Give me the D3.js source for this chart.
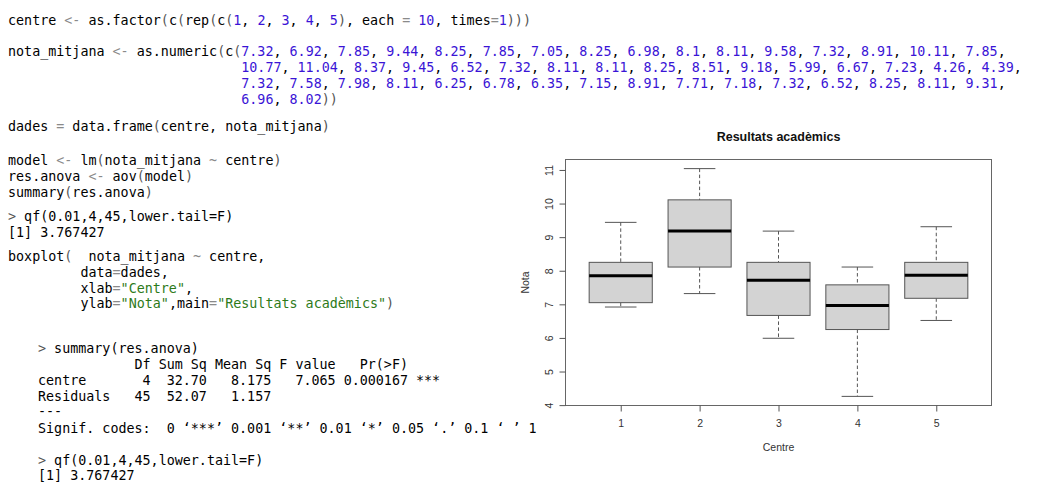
<!DOCTYPE html>
<html>
<head>
<meta charset="utf-8">
<script src="https://cdn.jsdelivr.net/npm/d3@7"></script>
<style>
  body { margin: 0; background: #fff; }
  svg text { white-space: pre; }
  .code { font-family: "DejaVu Sans Mono", monospace; font-size: 13.37px; }
  .plot text { font-family: "Liberation Sans", Arial, sans-serif; }
</style>
</head>
<body>
<svg id="chart"></svg>
<script>
// data
const centres = ["1", "2", "3", "4", "5"];
const perCentre = 10;
const notaMitjana = [
  7.32, 6.92, 7.85, 9.44, 8.25, 7.85, 7.05, 8.25, 6.98, 8.1,
  8.11, 9.58, 7.32, 8.91, 10.11, 7.85, 10.77, 11.04, 8.37, 9.45,
  6.52, 7.32, 8.11, 8.11, 8.25, 8.51, 9.18, 5.99, 6.67, 7.23,
  4.26, 4.39, 7.32, 7.58, 7.98, 8.11, 6.25, 6.78, 6.35, 7.15,
  8.91, 7.71, 7.18, 7.32, 6.52, 8.25, 8.11, 9.31, 6.96, 8.02
];
const yTicks = [4, 5, 6, 7, 8, 9, 10, 11];
const title = "Resultats acadèmics";
const xLabel = "Centre";
const yLabel = "Nota";
const qfResult = "3.767427";
const anovaRows = [
  "            Df Sum Sq Mean Sq F value   Pr(>F)    ",
  "centre       4  32.70   8.175   7.065 0.000167 ***",
  "Residuals   45  52.07   1.157                     ",
  "---",
  "Signif. codes:  0 \u2018***\u2019 0.001 \u2018**\u2019 0.01 \u2018*\u2019 0.05 \u2018.\u2019 0.1 \u2018 \u2019 1"
];

const W = 1043, H = 490;
const svg = d3.select("#chart").attr("width", W).attr("height", H);
svg.append("rect").attr("width", W).attr("height", H).attr("fill", "#fff");

// ---------- code / console text ----------
const K = "#000", O = "#8a8a8a", N = "#3a14d6", S = "#2d7a19", P = "#555";
const code = svg.append("g").attr("class", "code");

function line(x, y, segs) {
  const t = code.append("text").attr("x", x).attr("y", y).attr("xml:space", "preserve");
  segs.forEach(s => t.append("tspan").attr("fill", s[1]).text(s[0]));
}
function numList(vals) {
  const out = [];
  vals.forEach((v, i) => {
    out.push([String(v), N]);
    if (i < vals.length - 1) out.push([", ", K]);
  });
  return out;
}

const xa = 8;
line(xa, 24.5, [["centre ", K], ["<-", O], [" as.factor", K], ["(", P], ["c", K], ["(", P],
  ["rep", K], ["(", P], ["c", K], ["(", P], ...numList(centres), [")", P], [", each ", K], ["=", O],
  [" ", K], [String(perCentre), N], [", times", K], ["=", O], ["1", N], [")))", P]]);

// nota_mitjana printed 16 values per row
const rows = d3.range(0, notaMitjana.length, 16).map(i => notaMitjana.slice(i, i + 16));
const pad = " ".repeat(29);
rows.forEach((r, i) => {
  const head = i === 0
    ? [["nota_mitjana ", K], ["<-", O], [" as.numeric", K], ["(", P], ["c", K], ["(", P]]
    : [[pad, K]];
  const tail = i === rows.length - 1 ? [["))", P]] : [[",", K]];
  line(xa, 56 + i * 16, [...head, ...numList(r), ...tail]);
});

line(xa, 131, [["dades ", K], ["=", O], [" data.frame", K], ["(", P], ["centre, nota_mitjana", K], [")", P]]);
line(xa, 164.5, [["model ", K], ["<-", O], [" lm", K], ["(", P], ["nota_mitjana ", K], ["~", O], [" centre", K], [")", P]]);
line(xa, 180.5, [["res.anova ", K], ["<-", O], [" aov", K], ["(", P], ["model", K], [")", P]]);
line(xa, 196.5, [["summary", K], ["(", P], ["res.anova", K], [")", P]]);
line(xa, 221, [[">", P], [" qf(0.01,4,45,lower.tail=F)", K]]);
line(xa, 236.5, [["[1] " + qfResult, K]]);
line(xa, 260.5, [["boxplot", K], ["(", P], ["  nota_mitjana ", K], ["~", O], [" centre,", K]]);
line(xa, 276.5, [["         data", K], ["=", O], ["dades,", K]]);
line(xa, 292.5, [["         xlab", K], ["=", O], ["\"" + xLabel + "\"", S], [",", K]]);
line(xa, 308, [["         ylab", K], ["=", O], ["\"" + yLabel + "\"", S], [",main", K], ["=", O],
  ["\"" + title + "\"", S], [")", P]]);

const xb = 38;
line(xb, 353, [[">", P], [" summary(res.anova)", K]]);
anovaRows.forEach((r, i) => line(xb, 368.5 + i * 16 - (i === 3 ? 0.5 : 0), [[r, K]]));
line(xb, 464.5, [[">", P], [" qf(0.01,4,45,lower.tail=F)", K]]);
line(xb, 480, [["[1] " + qfResult, K]]);

// ---------- boxplot ----------
const plot = svg.append("g").attr("class", "plot");
const groups = centres.map((c, i) => notaMitjana.slice(i * perCentre, (i + 1) * perCentre));

// Tukey five-number summary, like R's boxplot.stats
function boxStats(v) {
  const s = v.slice().sort(d3.ascending), n = s.length;
  const n4 = Math.floor((n + 3) / 2) / 2;
  const f = [1, n4, (n + 1) / 2, n + 1 - n4, n].map(k => 0.5 * (s[Math.floor(k) - 1] + s[Math.ceil(k) - 1]));
  const iqr = f[3] - f[1];
  const lo = d3.min(s.filter(d => d >= f[1] - 1.5 * iqr));
  const hi = d3.max(s.filter(d => d <= f[3] + 1.5 * iqr));
  return { lo, q1: f[1], med: f[2], q3: f[3], hi };
}
const stats = groups.map(boxStats);

const ext = d3.extent(notaMitjana);
const yPad = 0.04 * (ext[1] - ext[0]);
const y = d3.scaleLinear().domain([ext[0] - yPad, ext[1] + yPad]).range([405.5, 159.5]);
const xPad = 0.04 * centres.length;
const x = d3.scaleLinear().domain([0.5 - xPad, centres.length + 0.5 + xPad]).range([565.5, 991.5]);

const boxCol = "#555";
const bx = plot.selectAll(".box").data(stats).join("g").attr("class", "box");
// whiskers
bx.append("line").attr("x1", (d, i) => x(i + 1)).attr("x2", (d, i) => x(i + 1))
  .attr("y1", d => y(d.hi)).attr("y2", d => y(d.q3))
  .attr("stroke", boxCol).attr("stroke-dasharray", "3.5,2.5");
bx.append("line").attr("x1", (d, i) => x(i + 1)).attr("x2", (d, i) => x(i + 1))
  .attr("y1", d => y(d.q1)).attr("y2", d => y(d.lo))
  .attr("stroke", boxCol).attr("stroke-dasharray", "3.5,2.5");
// staples
["lo", "hi"].forEach(k => {
  bx.append("line").attr("x1", (d, i) => x(i + 1 - 0.2)).attr("x2", (d, i) => x(i + 1 + 0.2))
    .attr("y1", d => y(d[k])).attr("y2", d => y(d[k])).attr("stroke", boxCol);
});
// boxes
bx.append("rect").attr("x", (d, i) => x(i + 1 - 0.4)).attr("width", x(1.4) - x(0.6))
  .attr("y", d => y(d.q3)).attr("height", d => y(d.q1) - y(d.q3))
  .attr("fill", "#d3d3d3").attr("stroke", boxCol);
// medians
bx.append("line").attr("x1", (d, i) => x(i + 1 - 0.4)).attr("x2", (d, i) => x(i + 1 + 0.4))
  .attr("y1", d => y(d.med)).attr("y2", d => y(d.med)).attr("stroke", "#000").attr("stroke-width", 3);

// frame
plot.append("rect").attr("x", x.range()[0]).attr("y", y.range()[1])
  .attr("width", x.range()[1] - x.range()[0]).attr("height", y.range()[0] - y.range()[1])
  .attr("fill", "none").attr("stroke", "#666");

// axes
const yAxis = plot.append("g").attr("transform", `translate(${x.range()[0]},0)`)
  .call(d3.axisLeft(y).tickValues(yTicks).tickSize(6).tickSizeOuter(0));
yAxis.select(".domain").remove();
yAxis.selectAll("line").attr("stroke", "#555");
yAxis.selectAll("text").attr("x", null).attr("dy", null).attr("text-anchor", "middle")
  .attr("transform", "translate(-13,0) rotate(-90)")
  .attr("fill", "#333").style("font-size", "10.5px").style("font-family", "'Liberation Sans', Arial, sans-serif");

const xAxis = plot.append("g").attr("transform", `translate(0,${y.range()[0]})`)
  .call(d3.axisBottom(x).tickValues(centres.map((c, i) => i + 1)).tickFormat(i => centres[i - 1])
    .tickSize(6).tickSizeOuter(0));
xAxis.select(".domain").remove();
xAxis.selectAll("line").attr("stroke", "#555");
xAxis.selectAll("text").attr("y", 21.5).attr("dy", null)
  .attr("fill", "#333").style("font-size", "10.5px").style("font-family", "'Liberation Sans', Arial, sans-serif");

// labels
const midX = (x.range()[0] + x.range()[1]) / 2;
plot.append("text").attr("x", midX).attr("y", 140.5).attr("text-anchor", "middle")
  .attr("font-weight", "bold").attr("font-size", "12.5px").attr("fill", "#111").text(title);
plot.append("text").attr("x", midX).attr("y", 451).attr("text-anchor", "middle")
  .attr("font-size", "10.5px").attr("fill", "#333").text(xLabel);
plot.append("text").attr("transform", `translate(529,${(y.range()[0] + y.range()[1]) / 2}) rotate(-90)`)
  .attr("text-anchor", "middle").attr("font-size", "10.5px").attr("fill", "#333").text(yLabel);
</script>
</body>
</html>
